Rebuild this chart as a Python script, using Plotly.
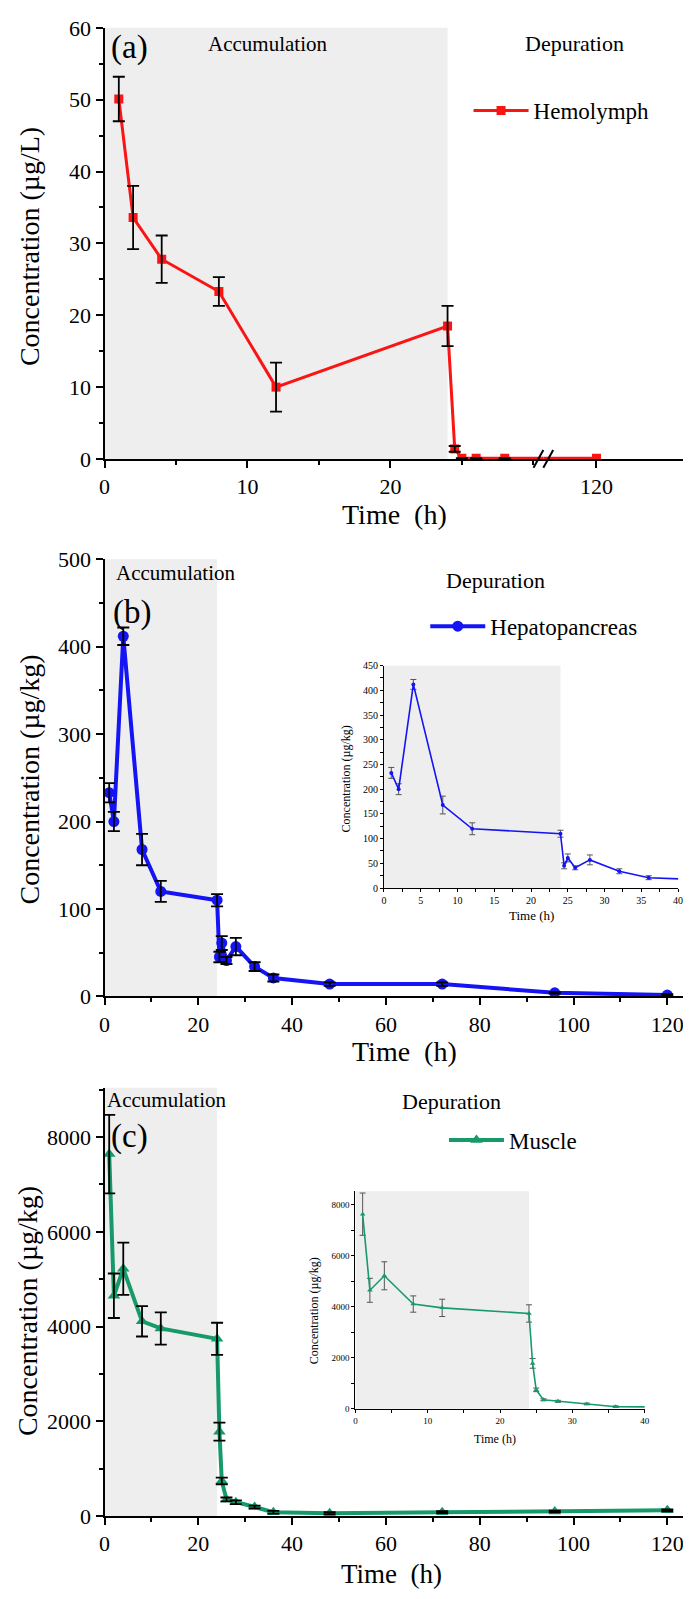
import plotly.graph_objects as go

# ---------------- data ----------------
ACCUM_END = 24

hemo_t = [1, 2, 4, 8, 12, 24, 24.5, 25, 26, 28, 120]
hemo_c = [50.1, 33.6, 27.8, 23.3, 10.0, 18.5, 1.4, 0.1, 0.1, 0.1, 0.1]
hemo_e = [3.1, 4.4, 3.3, 2.0, 3.4, 2.8, 0.4, 0, 0, 0, 0]

hep_t = [1, 2, 4, 8, 12, 24, 24.5, 25, 26, 28, 32, 36, 48, 72, 96, 120]
hep_c = [233, 200, 412, 168, 120, 110, 45, 61, 41, 57, 34, 21, 14, 14, 4, 1.5]
hep_e = [11, 11, 10, 18, 12, 7, 6, 8, 4, 10, 5, 4, 2, 2, 1, 1]

mus_t = [1, 2, 4, 8, 12, 24, 24.5, 25, 26, 28, 32, 36, 48, 72, 96, 120]
mus_c = [7640, 4650, 5220, 4110, 3960, 3740, 1780, 740, 350, 290, 190, 80, 60, 80, 95, 120]
mus_e = [830, 470, 550, 320, 340, 340, 190, 70, 40, 40, 30, 30, 20, 20, 20, 20]

a_yticks = [0, 10, 20, 30, 40, 50, 60]
a_xticks = [0, 10, 20]
a_xticks2 = [120]
bc_xticks = [0, 20, 40, 60, 80, 100, 120]
b_yticks = [0, 100, 200, 300, 400, 500]
c_yticks = [0, 2000, 4000, 6000, 8000]
ib_yticks = list(range(0, 451, 50))
ib_xticks = list(range(0, 41, 5))
ic_yticks = [0, 2000, 4000, 6000, 8000]
ic_xticks = [0, 10, 20, 30, 40]

# ---------------- style ----------------
PAGE_W, PAGE_H = 691, 1599
OFF = 8  # default page body margin
W, H = PAGE_W - OFF, PAGE_H - 2 * OFF
FONT = "Liberation Serif, Times New Roman, serif"
RED = "rgb(250,20,20)"
BLUE = "rgb(20,20,245)"
GREEN = "rgb(22,154,106)"
SHADE = "#eeeeee"


def px(x):
    return min(1.0, (x - OFF) / W)


def py(y):
    return 1 - (y - OFF) / H


fig = go.Figure()


def main_trace(x, y, color, symbol, size, lw, name, xa, ya, legend, showleg=True):
    fig.add_trace(go.Scatter(
        x=x, y=y, mode="lines+markers", name=name,
        line=dict(color=color, width=lw),
        marker=dict(color=color, symbol=symbol, size=size),
        xaxis=xa, yaxis=ya, legend=legend, showlegend=showleg))


def err_trace(x, y, e, xa, ya, color="black", thick=1.8, width=6):
    fig.add_trace(go.Scatter(
        x=x, y=y, mode="markers", showlegend=False, hoverinfo="skip",
        marker=dict(color="rgba(0,0,0,0)", size=2),
        error_y=dict(type="data", array=e, visible=True, color=color,
                     thickness=thick, width=width),
        xaxis=xa, yaxis=ya))


# panel (a): broken axis, two x-axes sharing y
main_trace(hemo_t, hemo_c, RED, "square", 9, 3, "Hemolymph", "x", "y", "legend")
main_trace(hemo_t, hemo_c, RED, "square", 9, 3, "Hemolymph", "x2", "y", "legend", False)
err_trace(hemo_t, hemo_c, hemo_e, "x", "y")

# panel (b)
main_trace(hep_t, hep_c, BLUE, "circle", 11, 4, "Hepatopancreas", "x3", "y2", "legend2")
err_trace(hep_t, hep_c, hep_e, "x3", "y2")
# inset (b)
fig.add_trace(go.Scatter(x=hep_t, y=hep_c, mode="lines+markers", showlegend=False,
                         line=dict(color=BLUE, width=1.6),
                         marker=dict(color=BLUE, symbol="circle", size=4),
                         error_y=dict(type="data", array=hep_e, color="#555555",
                                      thickness=1, width=3),
                         xaxis="x4", yaxis="y3"))

# panel (c)
main_trace(mus_t, mus_c, GREEN, "triangle-up", 11, 4, "Muscle", "x5", "y4", "legend3")
err_trace(mus_t, mus_c, mus_e, "x5", "y4")
# inset (c)
fig.add_trace(go.Scatter(x=mus_t, y=mus_c, mode="lines+markers", showlegend=False,
                         line=dict(color=GREEN, width=1.6),
                         marker=dict(color=GREEN, symbol="triangle-up", size=5),
                         error_y=dict(type="data", array=mus_e, color="#555555",
                                      thickness=1, width=3),
                         xaxis="x6", yaxis="y5"))


def axis(domain, rng, tickvals, minor=None, fs=22, lw=2, ticklen=7, anchor=None, showline=True):
    d = dict(domain=domain, range=rng, tickvals=tickvals, ticks="outside",
             ticklen=ticklen, tickwidth=lw, tickcolor="black",
             showline=showline, linecolor="black", linewidth=lw,
             showgrid=False, zeroline=False, fixedrange=True,
             ticklabeloverflow="allow",
             tickfont=dict(family=FONT, size=fs, color="black"))
    if minor is not None:
        d["minor"] = dict(dtick=minor, ticks="outside", ticklen=max(3, ticklen // 2 + 1),
                          tickwidth=lw, tickcolor="black", showgrid=False)
    if anchor:
        d["anchor"] = anchor
    return d


# pixel geometry (page pixels)
A_X0, A_BRK, A_X1 = 100, 546, PAGE_W
A_Y0, A_Y1 = 454, 16
a_pph = (A_BRK - A_X0) / 30.7
A_120 = 600
a2_lo = 120 - (A_120 - A_BRK) / a_pph
a2_hi = a2_lo + (A_X1 - A_BRK) / a_pph

BC_X0 = 100
bc_pph = (672 - BC_X0) / 120
bc_hi = (PAGE_W - BC_X0) / bc_pph

B_Y0, B_Y1 = 1000, 556
C_Y0, C_Y1 = 1528, 1093
c_ppu = (C_Y0 - 1143) / 8000
c_hi = (C_Y0 - C_Y1) / c_ppu

IB_X0, IB_X1, IB_Y0, IB_Y1 = 384, 683, 890, 664
IC_X0, IC_X1, IC_Y0, IC_Y1 = 355, 649, 1419, 1198
ic_ppu = (IC_Y0 - 1212) / 8000
ic_hi = (IC_Y0 - IC_Y1) / ic_ppu

fig.update_layout(
    xaxis=axis([px(A_X0), px(A_BRK)], [0, 30.7], a_xticks, 5, anchor="y"),
    xaxis2=axis([px(A_BRK), px(A_X1)], [a2_lo, a2_hi], a_xticks2, anchor="y"),
    yaxis=axis([py(A_Y0), py(A_Y1)], [0, 60], a_yticks, 5, anchor="x"),
    xaxis3=axis([px(BC_X0), 1], [0, bc_hi], bc_xticks, 10, anchor="y2"),
    yaxis2=axis([py(B_Y0), py(B_Y1)], [0, 500], b_yticks, 50, anchor="x3"),
    xaxis4=axis([px(IB_X0), px(IB_X1)], [0, 40], ib_xticks, 2.5, fs=10, lw=1, ticklen=3, anchor="y3"),
    yaxis3=axis([py(IB_Y0), py(IB_Y1)], [0, 450], ib_yticks, 25, fs=10, lw=1, ticklen=3, anchor="x4"),
    xaxis5=axis([px(BC_X0), 1], [0, bc_hi], bc_xticks, 10, anchor="y4"),
    yaxis4=axis([py(C_Y0), py(C_Y1)], [0, c_hi], c_yticks, 1000, anchor="x5"),
    xaxis6=axis([px(IC_X0), px(IC_X1)], [0, 40], ic_xticks, 5, fs=9, lw=1, ticklen=3, anchor="y5"),
    yaxis5=axis([py(IC_Y0), py(IC_Y1)], [0, ic_hi], ic_yticks, 1000, fs=9, lw=1, ticklen=3, anchor="x6"),
)

# shaded accumulation period
for xr, yr in [("x", "y"), ("x3", "y2"), ("x4", "y3"), ("x5", "y4"), ("x6", "y5")]:
    fig.add_shape(type="rect", xref=xr, yref=yr + " domain", x0=0, x1=ACCUM_END, y0=0, y1=1,
                  fillcolor=SHADE, line=dict(width=0), layer="below")

# axis break marks on panel (a)
for bx in (A_BRK - 5, A_BRK + 5):
    fig.add_shape(type="line", xref="paper", yref="paper",
                  x0=px(bx - 5), y0=py(A_Y0 + 9), x1=px(bx + 5), y1=py(A_Y0 - 9),
                  line=dict(color="black", width=2))

ann = []


def text(x, y, s, size, angle=0):
    ann.append(dict(x=px(x), y=py(y), xref="paper", yref="paper", text=s, showarrow=False,
                    xanchor="center", yanchor="middle", textangle=angle,
                    font=dict(family=FONT, size=size, color="black")))


# panel (a)
text(125, 36, "(a)", 33)
text(266, 32, "Accumulation", 21)
text(578, 32, "Depuration", 22)
text(24, 238, "Concentration (µg/L)", 28, -90)
text(395, 510, "Time\u00a0 (h)", 28)
# panel (b)
text(172, 570, "Accumulation", 21)
text(128, 610, "(b)", 33)
text(497, 577, "Depuration", 22)
text(24, 780, "Concentration (µg/kg)", 28, -90)
text(405, 1056, "Time\u00a0 (h)", 28)
text(345, 779, "Concentration (µg/kg)", 12, -90)
text(534, 918, "Time (h)", 13)
# panel (c)
text(163, 1105, "Accumulation", 21)
text(125, 1142, "(c)", 33)
text(453, 1107, "Depuration", 22)
text(22, 1320, "Concentration (µg/kg)", 28, -90)
text(392, 1587, "Time\u00a0 (h)", 27)
text(313, 1320, "Concentration (µg/kg)", 12, -90)
text(497, 1450, "Time (h)", 12)

leg_common = dict(xanchor="left", yanchor="middle", bgcolor="rgba(0,0,0,0)",
                  font=dict(family=FONT, size=23, color="black"), itemwidth=55,
                  borderwidth=0, tracegroupgap=0)

fig.update_layout(
    annotations=ann,
    width=W, height=H,
    margin=dict(l=0, r=0, t=0, b=0),
    paper_bgcolor="white", plot_bgcolor="rgba(0,0,0,0)",
    legend=dict(x=px(470), y=py(100), **leg_common),
    legend2=dict(x=px(426), y=py(624), **leg_common),
    legend3=dict(x=px(445), y=py(1146), **leg_common),
    font=dict(family=FONT, color="black"),
)

fig.write_html("out.html")
